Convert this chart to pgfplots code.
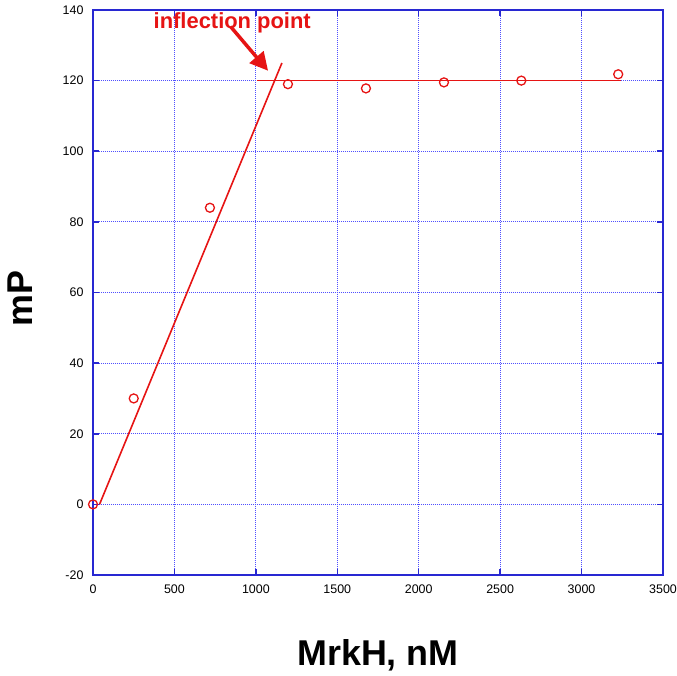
\documentclass[border=0pt]{standalone}
\usepackage{pgfplots}
\pgfplotsset{compat=1.18}
\usepackage{fontspec}
\setmainfont{Liberation Sans}
\usetikzlibrary{arrows.meta}
\definecolor{axblue}{RGB}{40,40,210}
\definecolor{gridblue}{RGB}{80,80,255}
\definecolor{pred}{RGB}{230,20,20}
\begin{document}
\begin{tikzpicture}
\begin{axis}[
  at={(0,0)}, anchor=south west,
  scale only axis, width=570bp, height=565bp,
  xmin=0, xmax=3500, ymin=-20, ymax=140,
  xtick={0,500,...,3500}, ytick={-20,0,...,140},
  /pgf/number format/assume math mode=true,
  /pgf/number format/1000 sep={},
  tick label style={font=\fontsize{12.5}{14}\selectfont, black},
  xticklabel style={yshift=-6bp},
  yticklabel style={xshift=-6bp},
  axis line style={axblue, line width=1.5bp},
  tick style={axblue, line width=1.5bp},
  major tick length=6bp,
  tick align=inside,
  grid=major,
  major grid style={gridblue, line width=1.1bp, dash pattern=on 1bp off 1bp},
  xlabel={\textbf{MrkH, nM}},
  ylabel={\textbf{mP}},
  label style={font=\fontsize{36}{40}\selectfont},
  xlabel style={at={(axis description cs:0.5,0)}, anchor=center, yshift=-80bp},
  ylabel style={at={(axis description cs:-0.127,0.49)}, anchor=center, rotate=0},
  clip=false,
]
\addplot[pred, line width=1.6bp] coordinates {(40,0) (1160,125)};
\addplot[pred, line width=1.6bp] coordinates {(1010,120) (3240,120)};
\addplot[only marks, mark=o, mark size=4.5bp, mark options={pred, line width=1.3bp}] coordinates {
  (0,0) (250,30) (718,84) (1197,119) (1676,117.8) (2155,119.5) (2630,120) (3225,121.8)
};
\draw[pred, line width=3.5bp, -{Triangle[length=18bp, width=18bp]}] (axis cs:845,135.3) -- (axis cs:1075,122.8);
\node[pred, font=\bfseries\fontsize{22}{24}\selectfont] at (axis cs:855,136.5) {inflection point};
\end{axis}
\pgfresetboundingbox
\useasboundingbox (-93bp,-101bp) rectangle (584bp,575bp);
\end{tikzpicture}
\end{document}
